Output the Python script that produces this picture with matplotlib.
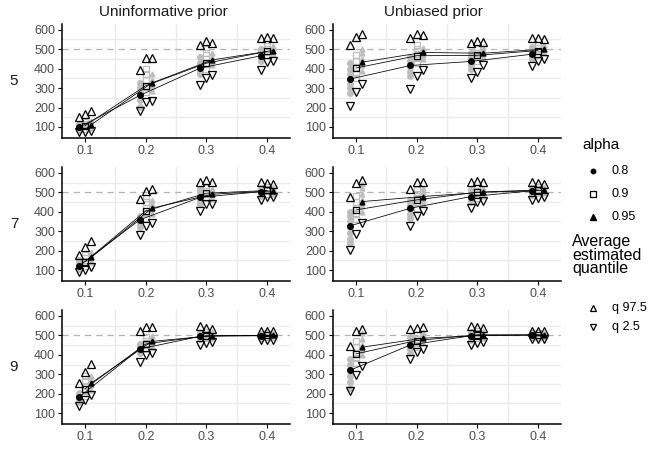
import numpy as np
import matplotlib
matplotlib.use("Agg")
import matplotlib.pyplot as plt
from matplotlib.lines import Line2D

plt.rcParams['font.family'] = ['Liberation Sans', 'DejaVu Sans']

# ----- data -----
x_vals = [0.1, 0.2, 0.3, 0.4]
alphas = ['0.8', '0.9', '0.95']
row_labels = ['5', '7', '9']
col_titles = ['Uninformative prior', 'Unbiased prior']

# rows = alpha 0.8 / 0.9 / 0.95, columns = x 0.1 .. 0.4
n5_uninf_mean = [[98, 262, 403, 466], [107, 312, 428, 488], [112, 326, 445, 493]]
n5_uninf_hi = [[151, 394, 522, 556], [168, 454, 540, 565], [180, 454, 534, 556]]
n5_uninf_lo = [[73, 184, 317, 394], [73, 227, 351, 432], [78, 232, 368, 437]]

n5_unb_mean = [[346, 416, 437, 474], [403, 466, 468, 493], [433, 483, 479, 500]]
n5_unb_hi = [[522, 556, 534, 556], [561, 579, 544, 556], [579, 573, 539, 553]]
n5_unb_lo = [[206, 297, 351, 411], [278, 360, 385, 440], [320, 394, 416, 449]]

n7_uninf_mean = [[121, 358, 474, 503], [143, 404, 495, 509], [165, 418, 490, 507]]
n7_uninf_hi = [[177, 464, 555, 555], [220, 507, 564, 546], [249, 517, 551, 541]]
n7_uninf_lo = [[88, 280, 406, 461], [100, 327, 438, 474], [117, 340, 438, 474]]

n7_unb_mean = [[327, 418, 478, 507], [409, 461, 500, 512], [452, 478, 500, 509]]
n7_unb_hi = [[478, 517, 555, 555], [546, 551, 558, 546], [564, 555, 555, 541]]
n7_unb_lo = [[203, 327, 418, 461], [285, 380, 448, 469], [340, 406, 455, 478]]

n9_uninf_mean = [[183, 430, 495, 498], [226, 456, 498, 500], [255, 469, 498, 500]]
n9_uninf_hi = [[255, 524, 548, 524], [314, 541, 537, 524], [354, 544, 532, 524]]
n9_uninf_lo = [[136, 362, 451, 476], [166, 400, 459, 476], [192, 408, 464, 476]]

n9_unb_mean = [[320, 451, 498, 502], [405, 473, 503, 502], [439, 485, 500, 502]]
n9_unb_hi = [[444, 532, 549, 524], [520, 537, 541, 524], [532, 541, 537, 524]]
n9_unb_lo = [[214, 379, 452, 481], [294, 413, 461, 481], [342, 430, 464, 481]]

# individual runs (grey), per x: [alpha 0.8, alpha 0.9, alpha 0.95]
n5_uninf_runs = [
    [[85, 95, 105, 115], [90, 105, 115, 125], [95, 110, 120, 130]],
    [[205, 240, 270, 300, 325], [280, 305, 340, 370, 400], [285, 310, 340, 370]],
    [[370, 390, 410, 430, 460], [400, 425, 450, 480, 500], [420, 440, 460, 480]],
    [[440, 455, 470, 490, 500], [470, 485, 500, 515], [475, 490, 505, 515]],
]
n5_unb_runs = [
    [[275, 300, 320, 345, 370, 400, 430], [350, 380, 410, 440, 470], [390, 420, 450, 480, 500]],
    [[360, 385, 410, 440, 460], [430, 455, 475, 500, 520], [450, 470, 490, 505]],
    [[400, 420, 440, 460, 480], [440, 460, 480, 500], [455, 475, 495, 510]],
    [[450, 465, 480, 495, 510], [470, 490, 505, 520], [480, 495, 510, 520]],
]
n7_uninf_runs = [
    [[105, 120, 135, 150], [120, 140, 160, 180], [140, 160, 180, 195]],
    [[320, 340, 360, 380], [370, 395, 420, 450, 470], [390, 415, 440, 460]],
    [[440, 460, 480, 500, 515], [470, 490, 505, 520], [465, 485, 500, 515]],
    [[480, 495, 510, 520], [490, 505, 515, 525], [490, 505, 515, 525]],
]
n7_unb_runs = [
    [[240, 260, 290, 320, 350, 380, 400], [360, 390, 420, 450, 480], [400, 430, 460, 490, 520, 540]],
    [[370, 390, 415, 440, 460], [420, 445, 470, 490, 510], [440, 460, 480, 500, 520]],
    [[450, 465, 480, 495, 510], [470, 490, 505, 520], [480, 495, 510, 520]],
    [[485, 500, 510, 520], [495, 505, 515, 525], [495, 505, 515, 525]],
]
n9_uninf_runs = [
    [[160, 175, 190, 205], [190, 215, 240, 265, 290], [220, 245, 270, 290]],
    [[410, 425, 440, 455], [430, 450, 470, 490], [440, 460, 480, 495]],
    [[480, 490, 500, 510], [485, 495, 505, 515], [485, 495, 505, 515]],
    [[485, 495, 505], [490, 500, 510], [490, 500, 510]],
]
n9_unb_runs = [
    [[230, 260, 290, 320, 350, 380], [360, 385, 410, 440, 470], [400, 425, 450, 480, 510]],
    [[410, 430, 450, 470, 490], [440, 460, 480, 500], [460, 480, 500, 515]],
    [[475, 490, 505, 515], [485, 500, 510, 520], [485, 500, 510, 520]],
    [[490, 500, 510], [490, 500, 510], [490, 500, 510]],
]

true_value = 500

panels = [
    [(n5_uninf_mean, n5_uninf_hi, n5_uninf_lo, n5_uninf_runs),
     (n5_unb_mean, n5_unb_hi, n5_unb_lo, n5_unb_runs)],
    [(n7_uninf_mean, n7_uninf_hi, n7_uninf_lo, n7_uninf_runs),
     (n7_unb_mean, n7_unb_hi, n7_unb_lo, n7_unb_runs)],
    [(n9_uninf_mean, n9_uninf_hi, n9_uninf_lo, n9_uninf_runs),
     (n9_unb_mean, n9_unb_hi, n9_unb_lo, n9_unb_runs)],
]

# ----- styling -----
dodge = [-0.01, 0.0, 0.01]
grey = '#bdbdbd'
mean_style = [
    dict(marker='o', ms=4, mfc='black', mec='black'),
    dict(marker='s', ms=5, mfc='none', mec='black', mew=0.9),
    dict(marker='^', ms=3.5, mfc='black', mec='black'),
]
run_style = [
    dict(marker='o', ms=4, mfc=grey, mec=grey),
    dict(marker='s', ms=4.5, mfc='none', mec=grey, mew=0.9),
    dict(marker='^', ms=3.5, mfc=grey, mec=grey),
]
legend_style = [
    dict(marker='o', ms=3.2, mfc='black', mec='black'),
    dict(marker='s', ms=3.8, mfc='none', mec='black', mew=0.9),
    dict(marker='^', ms=3.8, mfc='black', mec='black'),
]
tri_kw = dict(ls='none', ms=6, mfc='none', mec='black', mew=0.9)

fig = plt.figure(figsize=(6.5, 4.5), dpi=100)

col_x = [0.0954, 0.512]
row_y = [0.694, 0.376, 0.058]
w, h = 0.351, 0.253

for r in range(3):
    for c in range(2):
        mean, hi, lo, runs = panels[r][c]
        ax = fig.add_axes([col_x[c], row_y[r], w, h])
        ax.set_xlim(0.062, 0.438)
        ax.set_ylim(45, 630)
        ax.set_xticks(x_vals)
        ax.set_xticklabels([str(v) for v in x_vals])
        ax.set_yticks([100, 200, 300, 400, 500, 600])
        # grid only on minor positions like the reference
        for gy in [150, 250, 350, 450, 550]:
            ax.axhline(gy, color='#ebebeb', lw=1.0, zorder=0)
        for gx in [0.15, 0.25, 0.35]:
            ax.axvline(gx, color='#ebebeb', lw=1.0, zorder=0)
        ax.axhline(true_value, color='#b3b3b3', lw=0.9, ls=(0, (5, 4)), zorder=1)

        for a in range(3):
            xs = np.array(x_vals) + dodge[a]
            for i in range(4):
                vals = runs[i][a]
                ax.plot([xs[i]] * len(vals), vals, ls='none', zorder=2, **run_style[a])
            ax.plot(xs, mean[a], color='black', lw=0.55, zorder=3)
            ax.plot(xs, mean[a], ls='none', zorder=4, **mean_style[a])
            ax.plot(xs, hi[a], marker='^', zorder=5, **tri_kw)
            ax.plot(xs, lo[a], marker='v', zorder=5, **tri_kw)

        for s in ['top', 'right']:
            ax.spines[s].set_visible(False)
        ax.spines['left'].set_linewidth(1.1)
        ax.spines['bottom'].set_linewidth(1.1)
        ax.tick_params(length=3, width=0.8, labelsize=9, labelcolor='#4d4d4d', pad=2)

# titles sit over the whole sub-plot, axis labels included
title_x = [163, 433]
for c in range(2):
    fig.text(title_x[c] / 650, 1 - 12 / 450, col_titles[c], ha='center', va='center',
             fontsize=11, color='#1a1a1a')
for r in range(3):
    fig.text(14 / 650, row_y[r] + h / 2, row_labels[r], ha='center', va='center',
             fontsize=11, color='#1a1a1a')

# ----- legend drawn by hand -----
def fig_marker(xp, yp, **kw):
    fig.add_artist(Line2D([xp / 650], [1 - yp / 450], transform=fig.transFigure,
                          ls='none', **kw))

fig.text(582 / 650, 1 - 145 / 450, 'alpha', ha='left', va='center', fontsize=11)
for k, lab in enumerate(alphas):
    yp = 171 + k * 23
    fig_marker(593, yp, **legend_style[k])
    fig.text(612 / 650, 1 - yp / 450, lab, ha='left', va='center', fontsize=9)

fig.text(572 / 650, 1 - 255 / 450, 'Average\nestimated\nquantile', ha='left',
         va='center', fontsize=11.5, linespacing=0.85)
fig_marker(593, 308, marker='^', ms=4.5, mfc='none', mec='black', mew=0.9)
fig.text(612 / 650, 1 - 308 / 450, 'q 97.5', ha='left', va='center', fontsize=9)
fig_marker(593, 327, marker='v', ms=4.5, mfc='none', mec='black', mew=0.9)
fig.text(612 / 650, 1 - 327 / 450, 'q 2.5', ha='left', va='center', fontsize=9)

fig.savefig('out.png', dpi=100)
